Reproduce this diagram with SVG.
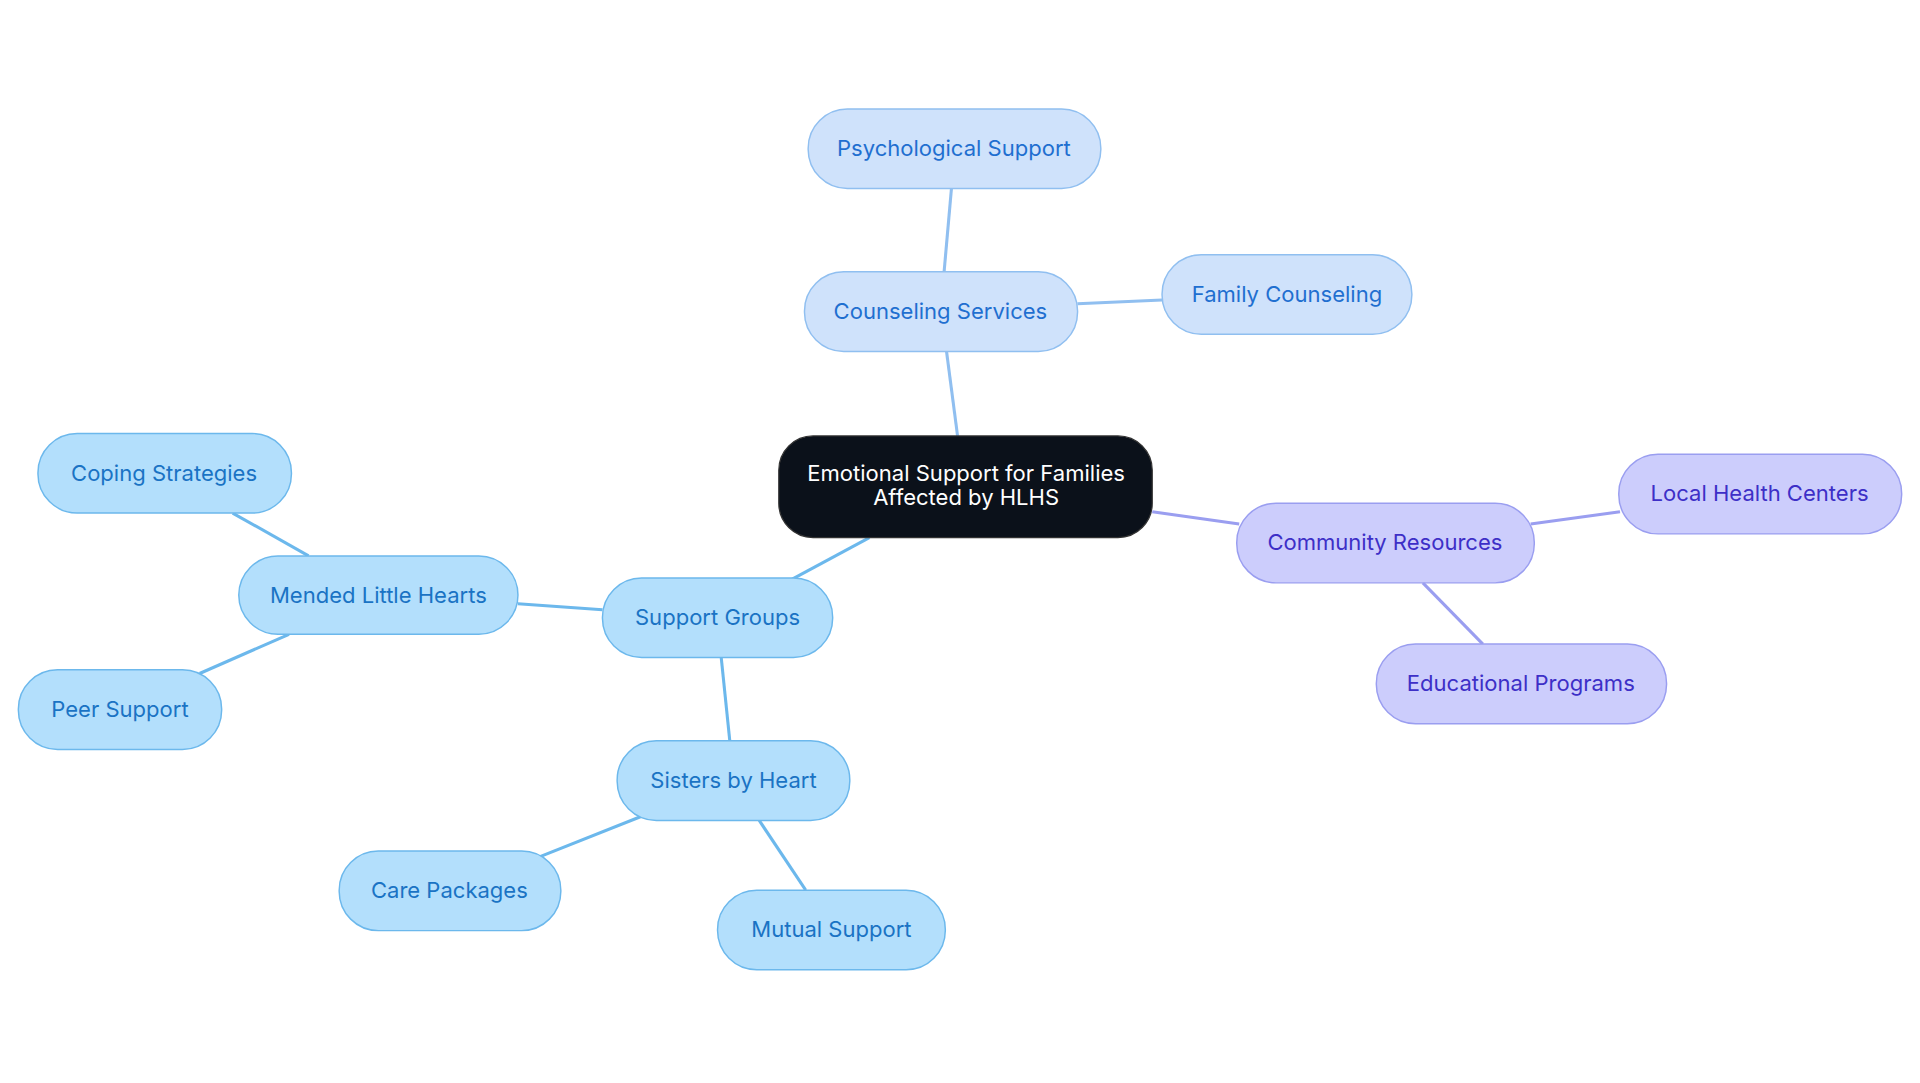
<svg xmlns="http://www.w3.org/2000/svg" width="1920" height="1083" viewBox="0 0 1920 1083">
<style>
text{font-family:Inter,"Noto Sans",sans-serif;font-size:18px;text-anchor:middle;dominant-baseline:central}
.b rect{fill:#cfe2fb;stroke:#90bff0;stroke-width:1.2}.b text{fill:#1f6fd0}
.s rect{fill:#b3dffc;stroke:#6cb8ec;stroke-width:1.2}.s text{fill:#1a73c4}
.p rect{fill:#cccdfc;stroke:#9a9ef0;stroke-width:1.2}.p text{fill:#3d2fc7}
.eb{stroke:#90bff0;stroke-width:2.5}.es{stroke:#6cb8ec;stroke-width:2.5}.ep{stroke:#9a9ef0;stroke-width:2.5}
</style>
<rect width="1920" height="1083" fill="#fff"/>
<g transform="scale(1.2245)">
<g id="connectors">
<line class="eb" x1="782" y1="356" x2="773" y2="287"/>
<line class="eb" x1="771" y1="222" x2="777" y2="154"/>
<line class="eb" x1="880" y1="248" x2="949" y2="245"/>
<line class="es" x1="710" y1="439" x2="647" y2="473"/>
<line class="es" x1="492" y1="498" x2="423" y2="493"/>
<line class="es" x1="252" y1="454" x2="190" y2="419"/>
<line class="es" x1="236" y1="518" x2="163" y2="550"/>
<line class="es" x1="589" y1="537" x2="596" y2="605"/>
<line class="es" x1="523" y1="667" x2="440" y2="700"/>
<line class="es" x1="620" y1="670" x2="658" y2="727"/>
<line class="ep" x1="941" y1="418" x2="1012" y2="428"/>
<line class="ep" x1="1250" y1="428" x2="1323" y2="418"/>
<line class="ep" x1="1162" y1="476" x2="1211" y2="526"/>
</g>
<g id="center"><rect x="636" y="356" width="305" height="83" rx="28" fill="#0b111a" stroke="#333"/><text x="789" y="386" fill="#fff">Emotional Support for Families</text><text x="789" y="406" fill="#fff">Affected by HLHS</text></g>
<g id="counseling" class="b"><rect x="657" y="222" width="223" height="65" rx="32"/><text x="768" y="254">Counseling Services</text></g>
<g id="psych" class="b"><rect x="660" y="89" width="239" height="65" rx="32"/><text x="779" y="121">Psychological Support</text></g>
<g id="family" class="b"><rect x="949" y="208" width="204" height="65" rx="32"/><text x="1051" y="240">Family Counseling</text></g>
<g id="support" class="s"><rect x="492" y="472" width="188" height="65" rx="32"/><text x="586" y="504">Support Groups</text></g>
<g id="mended" class="s"><rect x="195" y="454" width="228" height="64" rx="32"/><text x="309" y="486">Mended Little Hearts</text></g>
<g id="coping" class="s"><rect x="31" y="354" width="207" height="65" rx="32"/><text x="134" y="386">Coping Strategies</text></g>
<g id="peer" class="s"><rect x="15" y="547" width="166" height="65" rx="32"/><text x="98" y="579">Peer Support</text></g>
<g id="sisters" class="s"><rect x="504" y="605" width="190" height="65" rx="32"/><text x="599" y="637">Sisters by Heart</text></g>
<g id="care" class="s"><rect x="277" y="695" width="181" height="65" rx="32"/><text x="367" y="727">Care Packages</text></g>
<g id="mutual" class="s"><rect x="586" y="727" width="186" height="65" rx="32"/><text x="679" y="759">Mutual Support</text></g>
<g id="community" class="p"><rect x="1010" y="411" width="243" height="65" rx="32"/><text x="1131" y="443">Community Resources</text></g>
<g id="local" class="p"><rect x="1322" y="371" width="231" height="65" rx="32"/><text x="1437" y="403">Local Health Centers</text></g>
<g id="edu" class="p"><rect x="1124" y="526" width="237" height="65" rx="32"/><text x="1242" y="558">Educational Programs</text></g>
</g>
</svg>
